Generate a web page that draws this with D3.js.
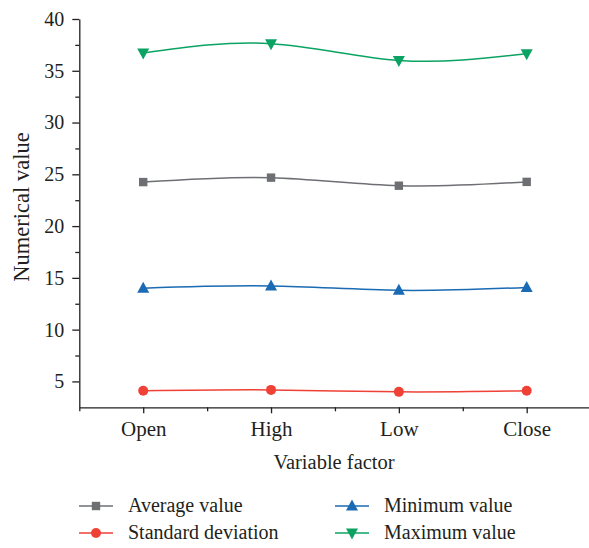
<!DOCTYPE html>
<meta charset="utf-8">
<title>Numerical value by variable factor</title>
<style>

body {
  margin: 0;
  background: #fff;
}

svg text {
  font-family: "Liberation Serif", "DejaVu Serif", serif !important;
}

.axis path,
.axis line {
  fill: none;
  stroke: #231f20;
  stroke-width: 1.3px;
}

.axis text {
  fill: #231f20;
  font-size: 20px;
}

.x.axis text {
  font-size: 21px;
}

.label {
  fill: #231f20;
  font-size: 20.5px;
}

.legend text {
  fill: #231f20;
  font-size: 20px;
}

</style>
<body>
<script src="https://d3js.org/d3.v7.min.js"></script>
<script>

// data
var factors = ["Open", "High", "Low", "Close"];
var averageValue = [24.25, 24.68, 23.9, 24.27];
var stdDeviation = [4.09, 4.18, 3.99, 4.09];
var minimumValue = [14.0, 14.22, 13.8, 14.08];
var maximumValue = [36.72, 37.62, 36.0, 36.65];
var yTicks = [5, 10, 15, 20, 25, 30, 35, 40];

var series = [
  {name: "Average value", values: averageValue, color: "#6e6f73", marker: "square"},
  {name: "Standard deviation", values: stdDeviation, color: "#ef4136", marker: "circle"},
  {name: "Minimum value", values: minimumValue, color: "#1a6ab4", marker: "up"},
  {name: "Maximum value", values: maximumValue, color: "#0ba363", marker: "down"}
];

var width = 589,
    height = 548;

var x = d3.scaleLinear()
    .domain([0.5, 4.5])
    .range([79.3, 590.6]);

var y = d3.scaleLinear()
    .domain([2.5, 40])
    .range([407.3, 19]);

var svg = d3.select("body").append("svg")
    .attr("width", width)
    .attr("height", height);

// minor ticks first so the major ones sit on top
svg.append("g")
    .attr("class", "y axis minor")
    .attr("transform", "translate(" + x(0.5) + ",0)")
    .call(d3.axisLeft(y).tickValues(d3.range(7.5, 40, 5)).tickSize(4).tickFormat(""))
    .select(".domain").remove();

svg.append("g")
    .attr("class", "x axis minor")
    .attr("transform", "translate(0," + y(2.5) + ")")
    .call(d3.axisBottom(x).tickValues([0.5, 1.5, 2.5, 3.5]).tickSize(4).tickFormat(""))
    .select(".domain").remove();

svg.append("g")
    .attr("class", "y axis")
    .attr("transform", "translate(" + x(0.5) + ",0)")
    .call(d3.axisLeft(y).tickValues(yTicks).tickSize(7).tickSizeOuter(0).tickPadding(8));

svg.append("g")
    .attr("class", "x axis")
    .attr("transform", "translate(0," + y(2.5) + ")")
    .call(d3.axisBottom(x).tickValues([1, 2, 3, 4]).tickSize(6).tickSizeOuter(0).tickPadding(8)
      .tickFormat(function(d) { return factors[d - 1]; }));

svg.selectAll(".axis").attr("font-family", null);

svg.append("text")
    .attr("class", "label")
    .attr("x", 334)
    .attr("y", 469)
    .style("text-anchor", "middle")
    .text("Variable factor");

svg.append("text")
    .attr("class", "label")
    .attr("transform", "translate(29,207)rotate(-90)")
    .style("text-anchor", "middle")
    .style("font-size", "22.5px")
    .text("Numerical value");

var line = d3.line()
    .curve(d3.curveNatural)
    .x(function(d, i) { return x(i + 1); })
    .y(function(d) { return y(d); });

function drawMarker(g, type, color) {
  if (type == "square") {
    g.append("rect")
        .attr("x", -4.2).attr("y", -4.2)
        .attr("width", 8.4).attr("height", 8.4)
        .style("fill", color);
  } else if (type == "circle") {
    g.append("circle")
        .attr("r", 5)
        .style("fill", color);
  } else if (type == "up") {
    g.append("path")
        .attr("d", "M0,-6.5L6,4.5L-6,4.5Z")
        .style("fill", color);
  } else {
    g.append("path")
        .attr("d", "M0,6.5L6,-4.5L-6,-4.5Z")
        .style("fill", color);
  }
}

series.forEach(function(s) {
  svg.append("path")
      .datum(s.values)
      .attr("d", line)
      .style("fill", "none")
      .style("stroke", s.color)
      .style("stroke-width", 1.5);

  s.values.forEach(function(v, i) {
    var g = svg.append("g")
        .attr("transform", "translate(" + x(i + 1) + "," + y(v) + ")");
    drawMarker(g, s.marker, s.color);
  });
});

// legend, two columns
var legend = svg.selectAll(".legend")
    .data(series)
  .enter().append("g")
    .attr("class", "legend")
    .attr("transform", function(d, i) {
      return "translate(" + (i < 2 ? 79 : 335) + "," + (i % 2 == 0 ? 506 : 533) + ")";
    });

legend.append("line")
    .attr("x1", 0)
    .attr("x2", 34)
    .style("stroke", function(d) { return d.color; })
    .style("stroke-width", 1.5);

legend.each(function(d) {
  var g = d3.select(this).append("g").attr("transform", "translate(17,0)");
  drawMarker(g, d.marker, d.color);
});

legend.append("text")
    .attr("x", 49)
    .attr("dy", ".32em")
    .text(function(d) { return d.name; });

</script>
</body>
